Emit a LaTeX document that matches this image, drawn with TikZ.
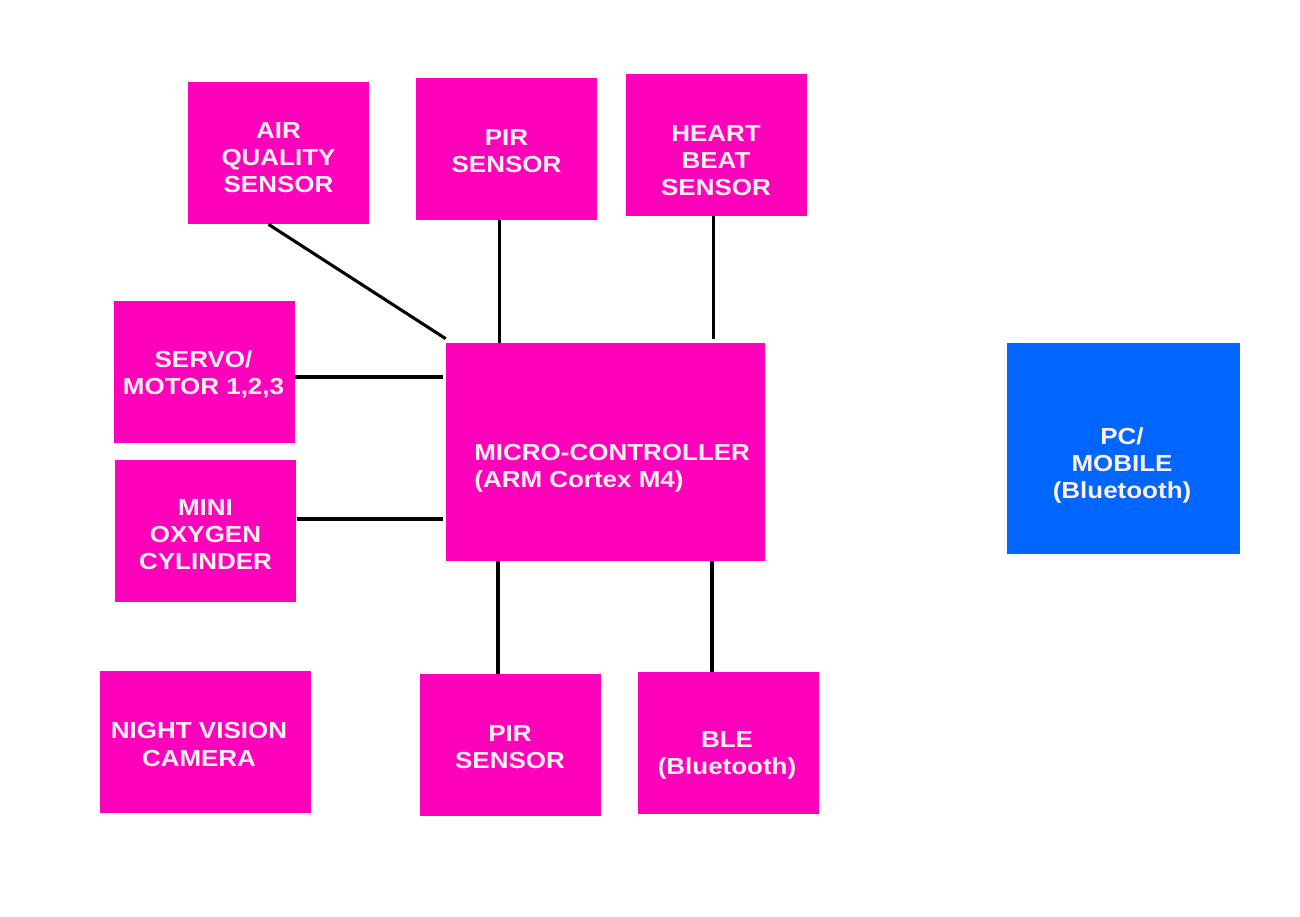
\documentclass[tikz,border=0pt]{standalone}
\usepackage{fontspec}
\setmainfont{Liberation Sans}[FakeStretch=1.12]
\usetikzlibrary{calc}
\definecolor{mag}{RGB}{255,0,187}
\definecolor{pcblue}{RGB}{0,102,255}
\definecolor{txt}{RGB}{255,240,240}
\begin{document}
\begin{tikzpicture}[x=0.02cm,y=-0.02cm,
  box/.style={fill=mag,draw=none,inner sep=0pt,
    minimum width=3.62cm,minimum height=2.84cm},
  lbl/.style={inner sep=0pt,text=txt,align=center,
    font=\fontsize{13.2}{15.4}\selectfont\bfseries},
  conn/.style={line width=1.75pt,black}]
\useasboundingbox[fill=white] (0,0) rectangle (1300,916);
% boxes
\node[box] (air) at (278.5,153) {};
\node[box] (pir1) at (506.5,149) {};
\node[box] (heart) at (716.5,145) {};
\node[box] (servo) at (204.5,372) {};
\node[box] (oxy) at (205.5,531) {};
\node[box,minimum width=4.22cm] (night) at (205.5,742) {};
\node[box,minimum width=6.38cm,minimum height=4.36cm] (mcu) at (605.5,452) {};
\node[box] (pir2) at (510.5,745) {};
\node[box] (ble) at (728.5,743) {};
\node[box,fill=pcblue,minimum width=4.66cm,minimum height=4.22cm] (pc) at (1123.5,448.5) {};
% texts
\node[lbl] (airt) at (278.5,157.5) {AIR\\QUALITY\\SENSOR};
\node[lbl] (pir1t) at (506.5,151.5) {PIR\\SENSOR};
\node[lbl] (heartt) at (716,161) {HEART\\BEAT\\SENSOR};
\node[lbl] (servot) at (203.5,374) {SERVO/\\MOTOR 1,2,3};
\node[lbl] (oxyt) at (205.5,534.5) {MINI\\OXYGEN\\CYLINDER};
\node[lbl] (nightt) at (199,744.5) {NIGHT VISION\\CAMERA};
\node[lbl,align=left,anchor=west] (mcut) at (474,468) {MICRO-CONTROLLER\\(ARM Cortex M4)};
\node[lbl] (pir2t) at (510,747.5) {PIR\\SENSOR};
\node[lbl] (blet) at (727,755) {BLE\\(Bluetooth)};
\node[lbl] (pct) at (1122,465.5) {PC/\\MOBILE\\(Bluetooth)};
% connectors
\draw[conn] ($(air.south)+(-10,0)$) -- ($(mcu.north west)+(0,-4)$);
\draw[conn] ($(pir1.south)+(-7,0)$) coordinate (p1) -- (p1 |- mcu.north);
\draw[conn] ($(heart.south)+(-3,0)$) coordinate (h1) -- ($(h1 |- mcu.north)+(0,-4)$);
\draw[conn] (servo.east |- 0,377) coordinate (s1) -- ($(s1 -| mcu.west)+(-3,0)$);
\draw[conn] ($(oxy.east |- 0,519)+(1,0)$) coordinate (o1) -- ($(o1 -| mcu.west)+(-3,0)$);
\draw[conn] (mcu.south -| 498,0) coordinate (m1) -- (m1 |- pir2.north);
\draw[conn] (mcu.south -| 712,0) coordinate (m2) -- (m2 |- ble.north);
\end{tikzpicture}
\end{document}
